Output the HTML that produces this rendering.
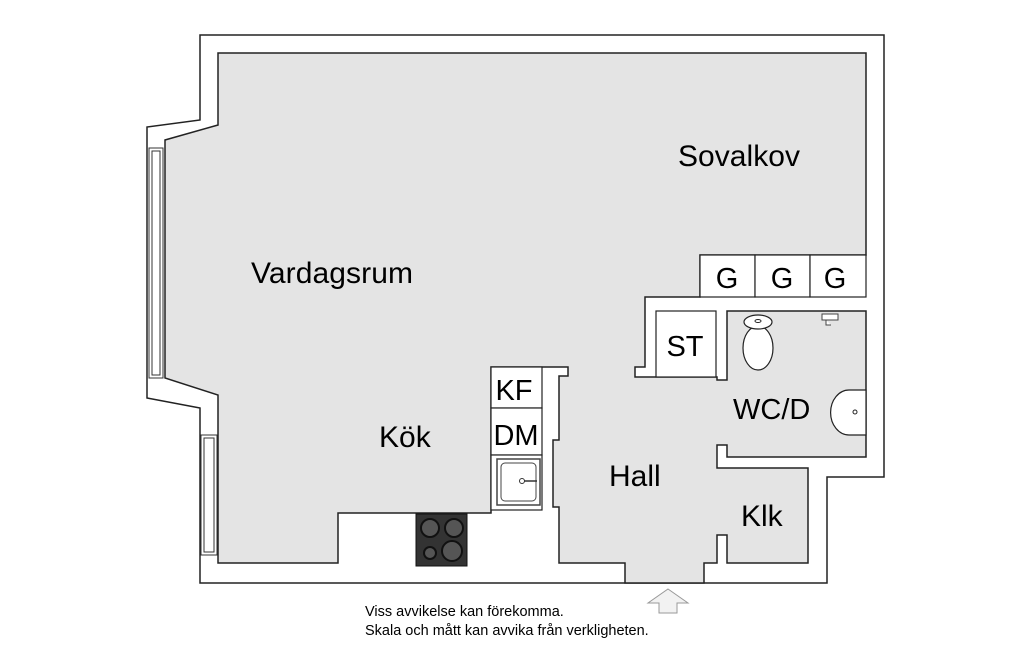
<!DOCTYPE html>
<html><head><meta charset="utf-8"><style>
html,body{margin:0;padding:0;background:#fff;}
svg{display:block;}
text{font-family:"Liberation Sans",Arial,sans-serif;fill:#000;}
</style></head><body>
<svg width="1024" height="646" viewBox="0 0 1024 646" xmlns="http://www.w3.org/2000/svg">
<rect width="1024" height="646" fill="#fff"/>
<polygon points="200,35 884,35 884,477 827,477 827,583 200,583 200,408 147,398 147,127 200,120" fill="#fff" stroke="#222" stroke-width="1.5"/>
<polygon points="218,53 866,53 866,255 700,255 700,297 645,297 645,367 635,367 635,377 717,377 717,380 727,380 727,311 866,311 866,457 727,457 727,445 717,445 717,468 808,468 808,563 727,563 727,535 717,535 717,563 704,563 704,583 625,583 625,563 559,563 559,507 553,507 553,440 559,440 559,376 568,376 568,367 491,367 491,513 338,513 338,563 218,563 218,395 165,378 165,140 218,125" fill="#e4e4e4" stroke="#222" stroke-width="1.5"/>
<rect x="149" y="148" width="14" height="230" fill="#fff" stroke="#333" stroke-width="1"/>
<rect x="152" y="151" width="8" height="224" fill="none" stroke="#333" stroke-width="1"/>
<rect x="201" y="435" width="16" height="120" fill="#fff" stroke="#333" stroke-width="1"/>
<rect x="204" y="438" width="10" height="114" fill="none" stroke="#333" stroke-width="1"/>
<rect x="700" y="255" width="55" height="42" fill="#fff" stroke="#222" stroke-width="1.2"/>
<rect x="755" y="255" width="55" height="42" fill="#fff" stroke="#222" stroke-width="1.2"/>
<rect x="810" y="255" width="56" height="42" fill="#fff" stroke="#222" stroke-width="1.2"/>
<text x="727" y="288" font-size="29" text-anchor="middle">G</text>
<text x="782" y="288" font-size="29" text-anchor="middle">G</text>
<text x="835" y="288" font-size="29" text-anchor="middle">G</text>
<rect x="656" y="311" width="60" height="66" fill="#fff" stroke="#222" stroke-width="1.2"/>
<text x="685" y="356" font-size="29" text-anchor="middle">ST</text>
<rect x="491" y="367" width="51" height="41" fill="#fff" stroke="#222" stroke-width="1.2"/>
<rect x="491" y="408" width="51" height="47" fill="#fff" stroke="#222" stroke-width="1.2"/>
<rect x="491" y="455" width="51" height="55" fill="#fff" stroke="#222" stroke-width="1.2"/>
<text x="514" y="400" font-size="29" text-anchor="middle">KF</text>
<text x="516" y="445" font-size="29" text-anchor="middle">DM</text>
<rect x="497" y="459" width="43" height="46" fill="#fff" stroke="#444" stroke-width="1.5"/>
<rect x="501" y="463" width="35" height="38" rx="4" fill="#fff" stroke="#444" stroke-width="1"/>
<circle cx="522" cy="481" r="2.5" fill="none" stroke="#333"/>
<line x1="524" y1="481" x2="537" y2="481" stroke="#333" stroke-width="1.5"/>
<rect x="416" y="514" width="51" height="52" fill="#333" stroke="#111"/>
<circle cx="430" cy="528" r="9" fill="#555" stroke="#111" stroke-width="2"/>
<circle cx="454" cy="528" r="9" fill="#555" stroke="#111" stroke-width="2"/>
<circle cx="430" cy="553" r="6" fill="#555" stroke="#111" stroke-width="2"/>
<circle cx="452" cy="551" r="10" fill="#555" stroke="#111" stroke-width="2"/>
<ellipse cx="758" cy="348" rx="15" ry="22" fill="#fff" stroke="#222" stroke-width="1.2"/>
<ellipse cx="758" cy="322" rx="14" ry="7" fill="#fff" stroke="#222" stroke-width="1.2"/>
<ellipse cx="758" cy="321" rx="3" ry="1.5" fill="none" stroke="#222"/>
<path d="M822,314 h16 v6 h-16 z M826,320 v5 h5" fill="#fff" stroke="#444" stroke-width="1"/>
<path d="M866,390 h-17 a18,22 0 0 0 0,45 h17 z" fill="#fff" stroke="#222" stroke-width="1.2"/>
<circle cx="855" cy="412" r="2" fill="none" stroke="#222"/>
<text x="678" y="166" font-size="30" textLength="122">Sovalkov</text>
<text x="251" y="283" font-size="30" textLength="162">Vardagsrum</text>
<text x="379" y="447" font-size="30">Kök</text>
<text x="609" y="486" font-size="30">Hall</text>
<text x="741" y="526" font-size="30">Klk</text>
<text x="733" y="419" font-size="29">WC/D</text>
<polygon points="668,589 688,603 677,603 677,613 659,613 659,603 648,603" fill="#f2f2f2" stroke="#999" stroke-width="1"/>
<text x="365" y="616" font-size="14.5">Viss avvikelse kan förekomma.</text>
<text x="365" y="635" font-size="14.5">Skala och mått kan avvika från verkligheten.</text>
</svg>
</body></html>
